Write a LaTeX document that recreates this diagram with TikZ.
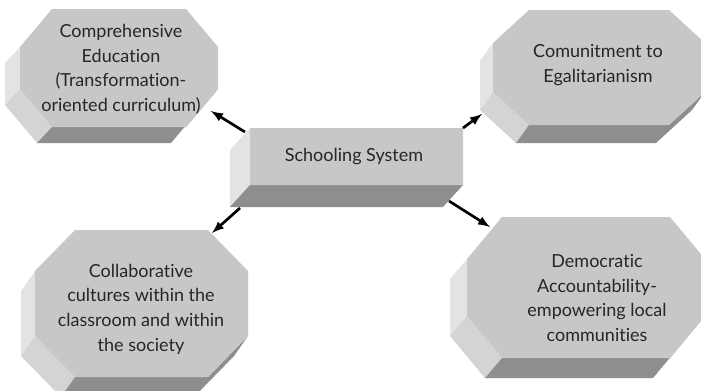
\documentclass[tikz,border=0pt]{standalone}
\usepackage{fontspec}
\setmainfont{Lato}[Ligatures={NoCommon,NoContextual}]
\usetikzlibrary{%
  arrows,%
  calc%
}
\tikzset{>=latex}
\definecolor{frontgray}{RGB}{199,199,199}
\definecolor{sidegray}{RGB}{227,227,227}
\definecolor{cutgray}{RGB}{212,212,212}
\definecolor{basegray}{RGB}{142,142,142}
\definecolor{inkgray}{RGB}{38,38,38}
\tikzset{
  blocktext/.style={align=center,text=inkgray,font=\fontsize{12.8}{17.5}\selectfont},
  link/.style={->,line width=1.9pt}
}
\newcommand{\octblock}[8]{%
  \fill[sidegray] (#1,#2+#6) -- (#1,#4-#6) -- (#1-#7,#4-#6+#8) -- (#1-#7,#2+#6+#8) -- cycle;
  \fill[cutgray] (#1,#4-#6) -- (#1+#5,#4) -- (#1+#5-#7,#4+#8) -- (#1-#7,#4-#6+#8) -- cycle;
  \fill[basegray] (#1+#5,#4) -- (#3-#5,#4) -- (#3,#4-#6) -- (#3-#7,#4-#6+#8)
    -- (#3-#5-#7,#4+#8) -- (#1+#5-#7,#4+#8) -- cycle;
  \fill[frontgray] (#1+#5,#2) -- (#3-#5,#2) -- (#3,#2+#6) -- (#3,#4-#6)
    -- (#3-#5,#4) -- (#1+#5,#4) -- (#1,#4-#6) -- (#1,#2+#6) -- cycle;
}

\begin{document}
\begin{tikzpicture}[x=0.025cm,y=-0.025cm]
        \clip (0,0) rectangle (701,390);
        \fill[white] (0,0) rectangle (701,390);
        \octblock{20}{9}{218}{127}{32}{38}{15}{16}
        \octblock{493}{10}{705}{125}{36}{33}{13}{18}
        \octblock{35}{230}{248}{377}{40}{41}{14}{20}
        \octblock{467}{217}{705}{358}{35}{42}{17}{20}
        \octblock{250}{128}{463}{185}{0}{0}{20}{22}
        \node[blocktext] (edu) at (121,69) {Comprehensive\\Education\\(Transformation-\\oriented curriculum)};
        \node[blocktext] (egal) at (598,65) {Comunitment to\\Egalitarianism};
        \node[blocktext] (sys) at (354,157) {Schooling System};
        \node[blocktext] (collab) at (141,309) {Collaborative\\cultures within the\\classroom and within\\the society};
        \node[blocktext] (demo) at (597,298) {Democratic\\Accountability-\\empowering local\\communities};
        \coordinate (sys-nw) at (245,132);
        \coordinate (sys-ne) at (463,128);
        \coordinate (sys-sw) at (240,208);
        \coordinate (sys-se) at (449,201);
        \coordinate (edu-in) at (211,111);
        \coordinate (egal-in) at (482,114);
        \coordinate (collab-in) at (212,233);
        \coordinate (demo-in) at (490,227);
        \draw[link] (sys-nw) -- (edu-in);
        \draw[link] (sys-ne) -- (egal-in);
        \draw[link] (sys-sw) -- (collab-in);
        \draw[link] (sys-se) -- (demo-in);
      \end{tikzpicture}
\end{document}
